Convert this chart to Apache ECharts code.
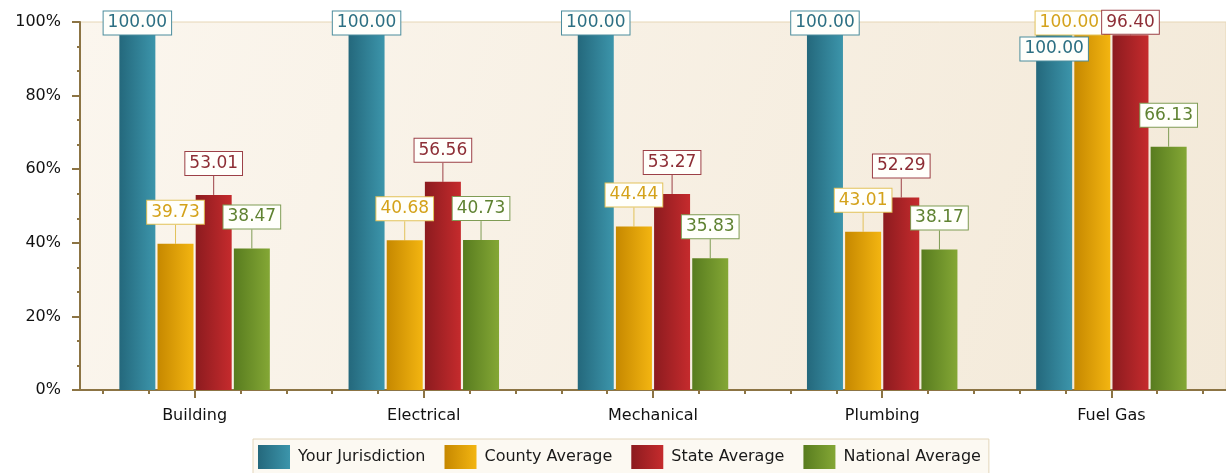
<!DOCTYPE html>
<html>
<head>
<meta charset="utf-8">
<script src="https://cdn.jsdelivr.net/npm/echarts@6/dist/echarts.min.js"></script>
<style>
  html, body { margin: 0; padding: 0; background: #ffffff; }
  #chart { width: 1226px; height: 473px; }
</style>
</head>
<body>
<div id="chart"></div>
<script>
// Inspection pass rates by trade, compared across jurisdictions
const categories = ['Building', 'Electrical', 'Mechanical', 'Plumbing', 'Fuel Gas'];
const seriesNames = ['Your Jurisdiction', 'County Average', 'State Average', 'National Average'];
const yourJurisdiction = [100.00, 100.00, 100.00, 100.00, 100.00];
const countyAverage    = [39.73, 40.68, 44.44, 43.01, 100.00];
const stateAverage     = [53.01, 56.56, 53.27, 52.29, 96.40];
const nationalAverage  = [38.47, 40.73, 35.83, 38.17, 66.13];
const yTicks = [0, 20, 40, 60, 80, 100];

const seriesValues = [yourJurisdiction, countyAverage, stateAverage, nationalAverage];

// bar fill (left -> right shading), label text and label border per series
const palette = [
  { dark: '#24687c', light: '#3c95ab', text: '#2c6f82', border: '#4b8c9c' },
  { dark: '#c68800', light: '#f3b511', text: '#d4a21a', border: '#e2c25a' },
  { dark: '#8c1b1f', light: '#c52b2d', text: '#8d2e35', border: '#9c4047' },
  { dark: '#587c1f', light: '#84a735', text: '#5f8231', border: '#7f9c55' }
];

const FONT = '"DejaVu Sans", Verdana, sans-serif';
const AXIS_COLOR = '#8c7444';

function hGradient(c) {
  return new echarts.graphic.LinearGradient(0, 0, 1, 0, [
    { offset: 0, color: c.dark },
    { offset: 1, color: c.light }
  ]);
}

// label nudges where the value boxes would collide near the top of the plot
const LABEL_GAP = 20;
function labelShift(params) {
  const s = params.seriesIndex;
  const i = params.dataIndex;
  const v = seriesValues[s] ? seriesValues[s][i] : null;
  const h = params.labelRect.height;
  const centerOnTop = LABEL_GAP + h / 2;
  if (v == null) return {};
  if (categories[i] === 'Fuel Gas') {
    if (s === 0) return { dy: centerOnTop + 26 };
    if (s === 1) return { dy: centerOnTop, dx: -23 };
    if (s === 2) return { dy: LABEL_GAP - 1.5 };
  }
  if (v >= 99.5) return { dy: centerOnTop };
  return {};
}

// minor ticks along the category axis, five per category
const minorTickValues = [];
for (let k = 0; k < categories.length * 5; k++) minorTickValues.push(k + 0.5);

const series = seriesNames.map((name, s) => ({
  name: name,
  type: 'bar',
  xAxisIndex: 0,
  yAxisIndex: 0,
  data: seriesValues[s],
  barWidth: 36,
  barGap: '6%',
  itemStyle: { color: hGradient(palette[s]) },
  label: {
    show: true,
    position: 'top',
    distance: LABEL_GAP,
    formatter: (p) => p.value.toFixed(2),
    color: palette[s].text,
    fontFamily: FONT,
    fontSize: 17,
    lineHeight: 17,
    backgroundColor: '#fffffb',
    borderColor: palette[s].border,
    borderWidth: 1,
    padding: [3, 4, 3, 4]
  },
  labelLine: {
    show: true,
    lineStyle: { color: palette[s].border, width: 1 }
  },
  labelLayout: labelShift,
  emphasis: { disabled: true },
  animation: false
}));

const chart = echarts.init(document.getElementById('chart'), null, { renderer: 'canvas' });
chart.setOption({
  backgroundColor: '#ffffff',
  animation: false,
  grid: {
    left: 80,
    top: 22,
    width: 1150,
    bottom: 83,
    show: true,
    backgroundColor: new echarts.graphic.LinearGradient(0, 0, 1, 1, [
      { offset: 0, color: '#fbf6ee' },
      { offset: 1, color: '#f3e9d8' }
    ]),
    borderColor: '#e6d6b6',
    borderWidth: 1
  },
  legend: {
    data: seriesNames,
    left: 253,
    top: 439,
    orient: 'horizontal',
    icon: 'rect',
    itemWidth: 32,
    itemHeight: 24,
    itemGap: 19,
    padding: [6, 8, 6, 5],
    backgroundColor: '#fcf9f2',
    borderColor: '#e3d6ba',
    borderWidth: 1,
    textStyle: {
      fontFamily: FONT,
      fontSize: 16,
      color: '#1a1a1a',
      padding: [0, 0, 0, 3]
    },
    selectedMode: false
  },
  xAxis: [
    {
      type: 'category',
      data: categories,
      position: 'bottom',
      boundaryGap: true,
      axisLine: { show: true, lineStyle: { color: AXIS_COLOR, width: 2 } },
      axisTick: { show: true, alignWithLabel: true, length: 8, lineStyle: { color: AXIS_COLOR, width: 2 } },
      axisLabel: { color: '#111111', fontFamily: FONT, fontSize: 16, margin: 18 },
      splitLine: { show: false }
    },
    {
      type: 'value',
      position: 'bottom',
      min: 0,
      max: categories.length * 5,
      axisLine: { show: false },
      axisLabel: { show: false },
      axisTick: {
        show: true,
        length: 4,
        customValues: minorTickValues,
        lineStyle: { color: AXIS_COLOR, width: 2 }
      },
      splitLine: { show: false }
    }
  ],
  yAxis: {
    type: 'value',
    min: yTicks[0],
    max: yTicks[yTicks.length - 1],
    interval: yTicks[1] - yTicks[0],
    axisLine: { show: true, lineStyle: { color: AXIS_COLOR, width: 2 } },
    axisTick: { show: true, length: 8, lineStyle: { color: AXIS_COLOR, width: 2 } },
    minorTick: { show: true, splitNumber: 3, length: 3, lineStyle: { color: AXIS_COLOR, width: 2 } },
    axisLabel: { formatter: '{value}%', color: '#111111', fontFamily: FONT, fontSize: 16, margin: 19 },
    splitLine: { show: false },
    minorSplitLine: { show: false }
  },
  series: series
});
</script>
</body>
</html>
